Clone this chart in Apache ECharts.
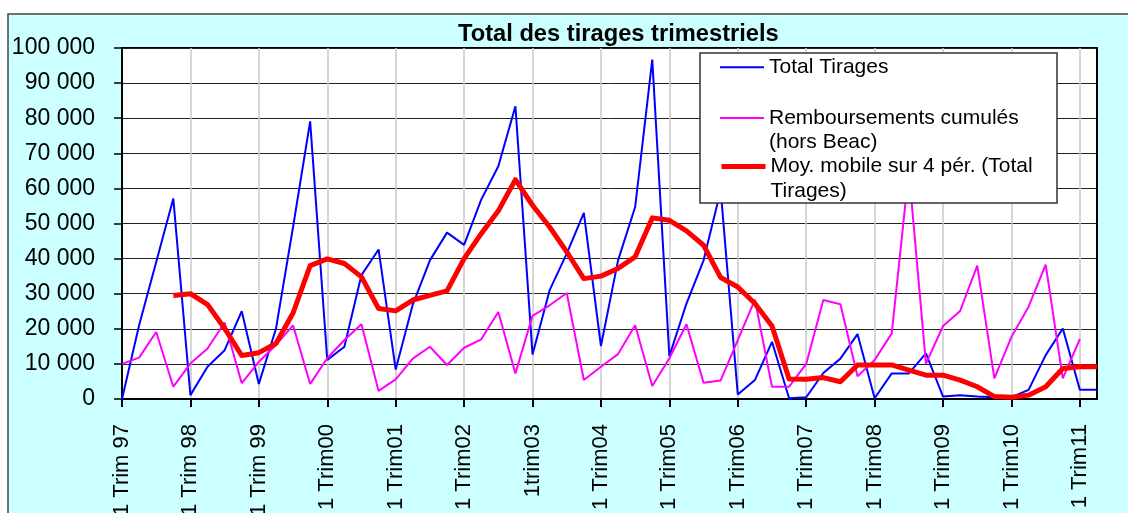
<!DOCTYPE html>
<html>
<head>
<meta charset="utf-8">
<title>Total des tirages trimestriels</title>
<script src="https://cdn.jsdelivr.net/npm/echarts@6/dist/echarts.min.js"></script>
<style>
  html, body { margin: 0; padding: 0; background: #fff; }
  #chart { width: 1128px; height: 513px; }
</style>
</head>
<body>
<div id="chart"></div>
<script>
// Year labels shown on the first quarter of each year
const yearLabels = ['1 Trim 97', '1 Trim 98', '1 Trim 99', '1 Trim00', '1 Trim01', '1 Trim02',
  '1trim03', '1 Trim04', '1 Trim05', '1 Trim06', '1 Trim07', '1 Trim08', '1 Trim09', '1 Trim10', '1 Trim11'];
const yearShort = ['97', '98', '99', '00', '01', '02', '03', '04', '05', '06', '07', '08', '09', '10', '11'];

// Quarterly totals of drawings
const totalTirages = [
  0, 21000, 39000, 57100,
  1100, 9200, 13900, 25000,
  4300, 20000, 49000, 79100,
  11100, 14900, 35300, 42600,
  8400, 26900, 39500, 47400,
  43900, 56800, 66300, 83400,
  12700, 31000, 41400, 53000,
  15100, 39500, 54700, 96700,
  12200, 27200, 39500, 59500,
  1300, 5400, 16300, 200,
  500, 7400, 11500, 18500,
  200, 7300, 7300, 13000,
  700, 1100, 700, 500,
  500, 2600, 12500, 20100,
  2600, 2600
];

// Cumulated repayments (excluding Beac)
const remboursements = [
  10000, 11800, 19100, 3500,
  10100, 14400, 21800, 4500,
  10600, 15400, 21000, 4300,
  11600, 16800, 21300, 2300,
  5600, 11500, 14900, 9700,
  14600, 17000, 24800, 7300,
  23700, 26700, 30200, 5400,
  9200, 12800, 21000, 3700,
  11600, 21300, 4600, 5300,
  16800, 28300, 3500, 3500,
  10000, 28200, 27000, 6500,
  11100, 18700, 65000, 10100,
  20800, 25100, 38000, 5900,
  17700, 26300, 38300, 5900,
  17100, null
];

// 4-period moving average of total drawings
const moyenneMobile = [
  null, null, null, 29500,
  30000, 26900, 20100, 12400,
  13200, 15800, 24500, 38000,
  39900, 38600, 34800, 25800,
  25100, 28200, 29500, 30800,
  40000, 47100, 53600, 62500,
  55200, 49000, 41900, 34300,
  35000, 37200, 40500, 51600,
  50900, 47900, 43800, 34600,
  31900, 27200, 20800, 5700,
  5600, 6100, 4900, 9700,
  9700, 9700, 8200, 6800,
  6800, 5400, 3500, 700,
  500, 1100, 3500, 8700,
  9200, 9200
];

// One category per quarter; only the first quarter of each year is labelled
const categories = [];
yearLabels.forEach(function (label, k) {
  const quarters = (k === yearLabels.length - 1) ? 2 : 4;
  for (let q = 1; q <= quarters; q++) {
    categories.push(q === 1 ? label : q + 'T' + yearShort[k]);
  }
});

const FONT = '"Liberation Sans", Arial, sans-serif';
const isYearStart = function (index) { return index % 4 === 0; };
const spaced = function (v) { return String(v).replace(/\B(?=(\d{3})+(?!\d))/g, ' '); };

const legendText = {
  color: '#000',
  fontFamily: FONT,
  fontSize: 21,
  lineHeight: 24.5
};

// Shared legend entry settings: a plain line sample, no marker dot
function legendEntry(name, top, extra) {
  return Object.assign({
    data: [name],
    left: 719,
    top: top,
    padding: 0,
    itemWidth: 44,
    itemHeight: 10,
    itemStyle: { opacity: 0 },
    textStyle: legendText
  }, extra || {});
}

const chart = echarts.init(document.getElementById('chart'), null, { renderer: 'canvas' });
chart.setOption({
  backgroundColor: '#fff',
  animation: false,
  textStyle: { fontFamily: FONT },
  title: {
    text: 'Total des tirages trimestriels',
    left: 458,
    top: 22,
    padding: 0,
    textStyle: { color: '#000', fontFamily: FONT, fontSize: 23.7, fontWeight: 'bold' }
  },
  graphic: [
    {
      type: 'rect',
      z: -10,
      silent: true,
      shape: { x: 8, y: 14, width: 1200, height: 600 },
      style: { fill: '#CCFFFF', stroke: '#444', lineWidth: 1.5 }
    },
    {
      type: 'rect',
      z: 3,
      silent: true,
      shape: { x: 700, y: 53, width: 357, height: 150 },
      style: { fill: '#fff', stroke: '#333', lineWidth: 1.5 }
    }
  ],
  legend: [
    legendEntry('Total Tirages', 55),
    // a leading empty line keeps the sample line level with the first text line
    legendEntry('Remboursements cumulés (hors Beac)', 118 - 36.75, {
      formatter: function () { return '\nRemboursements cumulés\n(hors Beac)'; }
    }),
    legendEntry('Moy. mobile sur 4 pér. (Total Tirages)', 166.5 - 36.75, {
      lineStyle: { width: 5 },
      formatter: function () { return '\nMoy. mobile sur 4 pér. (Total\nTirages)'; }
    })
  ],
  grid: {
    left: 122, right: 31, top: 48, bottom: 114,
    containLabel: false,
    outerBoundsMode: 'none',
    show: true,
    backgroundColor: '#fff',
    borderColor: '#000',
    borderWidth: 2
  },
  xAxis: {
    type: 'category',
    data: categories,
    boundaryGap: false,
    axisLine: { lineStyle: { color: '#000', width: 2 } },
    axisTick: { show: true, interval: isYearStart, length: 8, lineStyle: { color: '#000', width: 2 } },
    axisLabel: {
      interval: isYearStart,
      rotate: 90,
      margin: 25,
      color: '#000',
      fontFamily: FONT,
      fontSize: 22
    },
    splitLine: { show: true, interval: isYearStart, lineStyle: { color: '#c8c8c8', width: 1.5 } }
  },
  yAxis: {
    type: 'value',
    min: 0,
    max: 100000,
    interval: 10000,
    axisLine: { show: true, lineStyle: { color: '#000', width: 2 } },
    axisTick: { show: true, length: 8, lineStyle: { color: '#000', width: 1.5 } },
    axisLabel: {
      margin: 27,
      color: '#000',
      fontFamily: FONT,
      fontSize: 23,
      formatter: spaced
    },
    splitLine: { show: true, lineStyle: { color: '#222', width: 1 } }
  },
  series: [
    {
      name: 'Total Tirages',
      type: 'line',
      data: totalTirages,
      symbol: 'none',
      lineStyle: { color: '#0000FF', width: 2 },
      itemStyle: { color: '#0000FF' },
      z: 2
    },
    {
      name: 'Remboursements cumulés (hors Beac)',
      type: 'line',
      data: remboursements,
      symbol: 'none',
      lineStyle: { color: '#FF00FF', width: 2 },
      itemStyle: { color: '#FF00FF' },
      z: 2
    },
    {
      name: 'Moy. mobile sur 4 pér. (Total Tirages)',
      type: 'line',
      data: moyenneMobile,
      symbol: 'none',
      lineStyle: { color: '#FF0000', width: 5, join: 'round' },
      itemStyle: { color: '#FF0000' },
      z: 2
    }
  ]
});
</script>
</body>
</html>
